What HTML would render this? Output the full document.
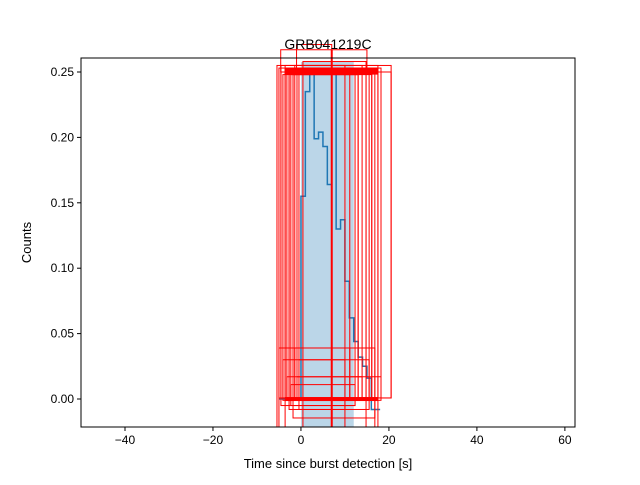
<!DOCTYPE html>
<html><head><meta charset="utf-8"><style>
body{margin:0;background:#fff}
svg{font-family:"Liberation Sans","DejaVu Sans",sans-serif}
</style></head><body>
<svg id="chart" width="640" height="480" xmlns="http://www.w3.org/2000/svg"></svg>
<script>
const xTicks=[-40,-20,0,20,40,60];
const yTicks=[0.00,0.05,0.10,0.15,0.20,0.25];
const stepTimes=[-5,0,1,2,3,4,5,6,7,8,9,10,11,12,13,14,15,16,17,18];
const stepCounts=[0.0,0.155,0.235,0.25,0.199,0.204,0.193,0.164,0.26,0.13,0.137,0.09,0.062,0.044,0.032,0.025,0.016,-0.008,-0.008];
const shadeRange=[0,12];
const rectLeft=[-5.45,-5.0,-4.55,-4.1,-3.6,-3.2,-2.7,-2.3,-1.8,-1.4,-0.9,-0.45,0.45,-5.0,-4.1,-3.2,-2.3,-1.4,-0.45,-3.6,-2.7,-1.8,-0.9,-4.55,-1.0,-4.6];
const rectRight=[10,11.1,12.3,13,13.9,14.8,15.5,16.1,16.8,17.5,18.2,20.5,14.8,16.8,15.5,13.9,12.3,11.1,10,17.5,16.1,13,18.2,20.5,7,15];
const rectTop=[0.255,0.253,0.25,0.248,0.255,0.25,0.253,0.248,0.25,0.255,0.253,0.25,0.258,0.039,0.03,0.017,0.011,0.039,0.03,0.253,0.25,0.248,0.017,0.255,0.271,0.267];
const rectBottom=[-0.0214,0.0008,-0.005,0.0008,-0.001,0.0008,-0.008,0.0008,-0.0145,0.0008,-0.001,0.0008,-0.0214,-0.0214,-0.001,0.0008,-0.005,0.0008,-0.008,-0.0214,0.0008,-0.001,0.0008,0.0008,0.25,0.25];
const L=81,R=575,T=58,B=427;
const xMin=-50,xMax=62.3,yMin=-0.0214,yMax=0.2607;
const X=v=>L+(v-xMin)/(xMax-xMin)*(R-L);
const Y=v=>B-(v-yMin)/(yMax-yMin)*(B-T);
const svg=document.getElementById('chart');
const NS='http://www.w3.org/2000/svg';
function mk(tag,attrs,parent){const e=document.createElementNS(NS,tag);for(const k in attrs)e.setAttribute(k,attrs[k]);(parent||svg).appendChild(e);return e;}
const shade=mk('rect',{x:X(shadeRange[0]),y:T+4,width:X(shadeRange[1])-X(shadeRange[0]),height:B-T-4,fill:'#1f77b4','fill-opacity':0.3});


let d='';
for(let i=0;i<stepCounts.length;i++){
  const x0=X(stepTimes[i]),x1=X(stepTimes[i+1]),y=Y(Math.min(stepCounts[i],0.25));
  d+=(i===0?'M':'L')+x0+','+y+'L'+x1+','+y;
}
const line=mk('path',{d:d,fill:'none',stroke:'#1f77b4','stroke-width':1.5});


for(let i=0;i<rectLeft.length;i++){
  const x0=X(rectLeft[i]),x1=X(rectRight[i]),y0=Y(rectTop[i]),y1=Y(rectBottom[i]);
  const r=mk('rect',{x:x0,y:y0,width:x1-x0,height:y1-y0,fill:'none',stroke:'red','stroke-width':1});
  
  
}
const vl=mk('line',{x1:X(7),x2:X(7),y1:Y(0.267),y2:B,stroke:'red','stroke-width':2});


const hl=mk('rect',{x:X(-3.6),y:Y(0.253),width:X(17.5)-X(-3.6),height:Y(0.248)-Y(0.253),fill:'red'});


const hl2=mk('rect',{x:X(-3.6),y:Y(0.0015),width:X(17.5)-X(-3.6),height:4,fill:'red'});


const frame=mk('rect',{x:L,y:T,width:R-L,height:B-T,fill:'none',stroke:'#000','stroke-width':1});


xTicks.forEach(v=>{
  const t=mk('line',{x1:X(v),x2:X(v),y1:B,y2:B+4,stroke:'#000'});
  
  
  const l=mk('text',{x:X(v),y:B+17,'text-anchor':'middle','font-size':12});
  l.textContent=(v<0?'\u2212'+(-v):v);
  
  
});
yTicks.forEach(v=>{
  const t=mk('line',{x1:L-4,x2:L,y1:Y(v),y2:Y(v),stroke:'#000'});
  
  
  const l=mk('text',{x:L-7,y:Y(v)+4,'text-anchor':'end','font-size':12});
  l.textContent=v.toFixed(2);
  
  
});
const xt=mk('text',{x:(L+R)/2,y:468,'text-anchor':'middle','font-size':13});
xt.textContent='Time since burst detection [s]';


const yt=mk('text',{x:0,y:0,'text-anchor':'middle','font-size':13,transform:'translate(31,'+((T+B)/2)+') rotate(-90)'});
yt.textContent='Counts';


const ti=mk('text',{x:(L+R)/2,y:49,'text-anchor':'middle','font-size':14});
ti.textContent='GRB041219C';


</script>
</body></html>
